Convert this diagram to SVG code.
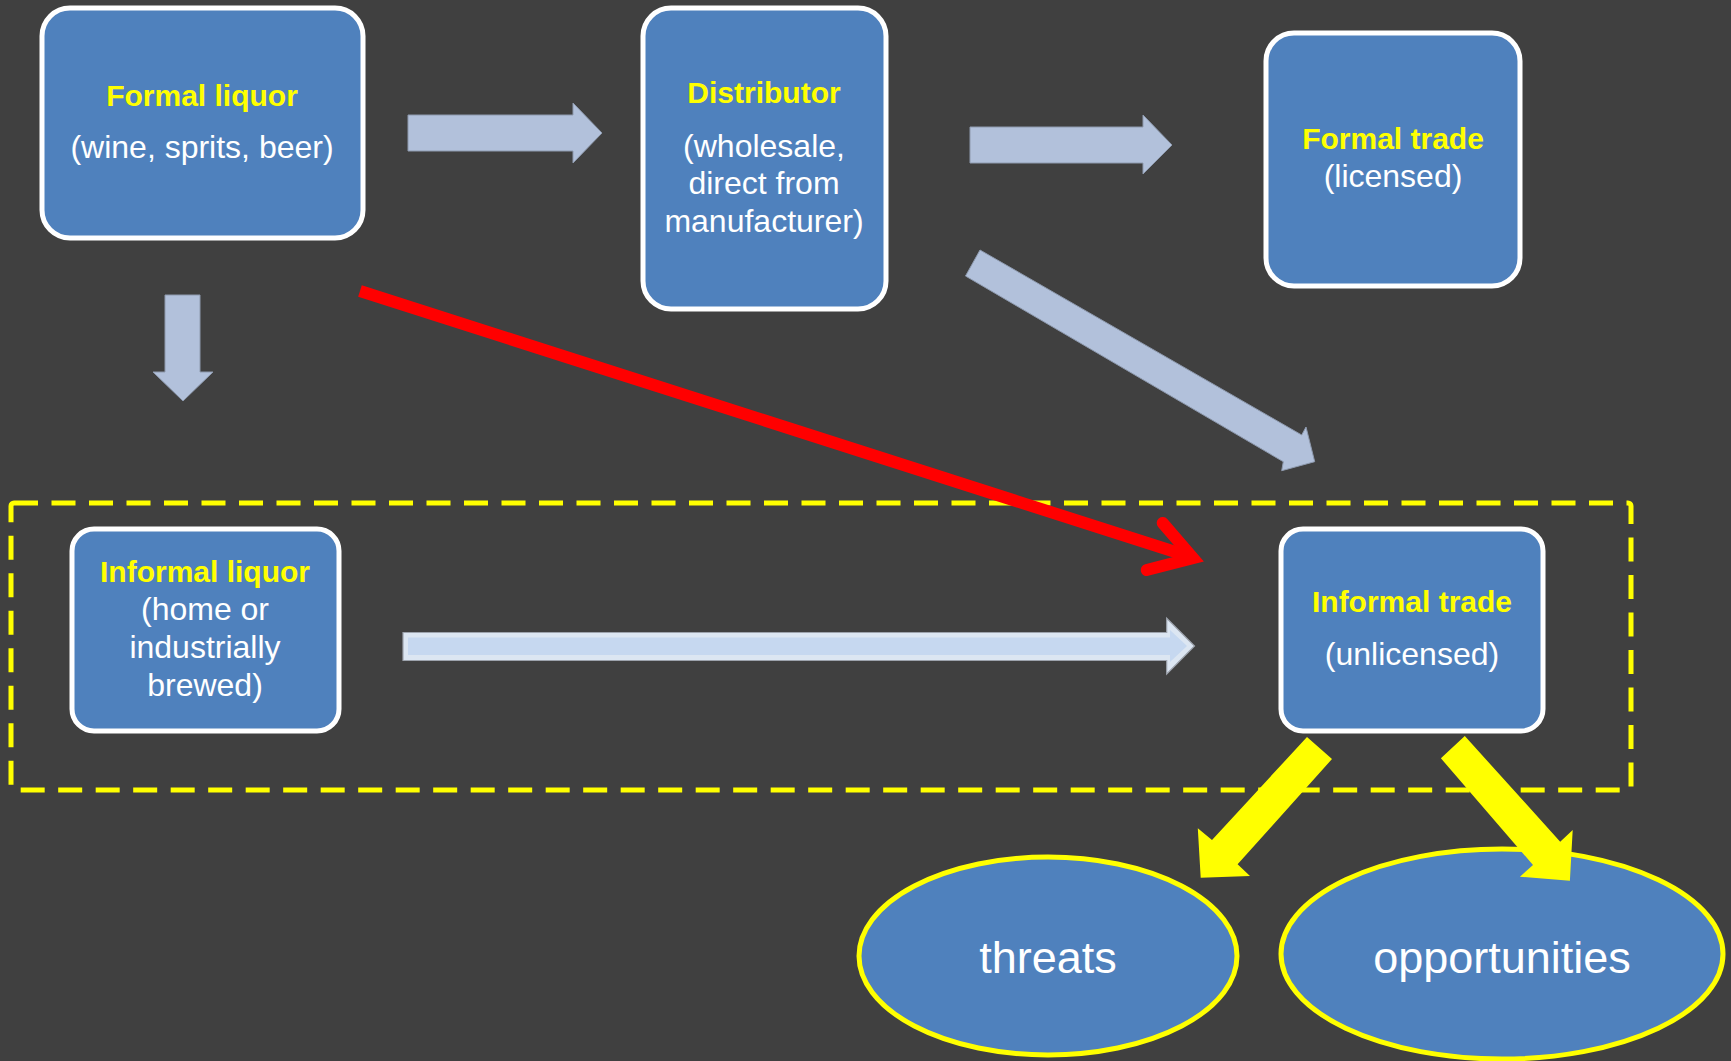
<svg xmlns="http://www.w3.org/2000/svg" width="1731" height="1061" viewBox="0 0 1731 1061">
<style>
.box{fill:#4F81BD;stroke:#FFFFFF;stroke-width:5}
.oval{fill:#4F81BD;stroke:#FFFF00;stroke-width:5}
.t{font-family:"Liberation Sans",Arial,sans-serif;text-anchor:middle}
.title{font-weight:bold;font-size:30px;fill:#FFFF00}
.body{font-size:32px;fill:#FFFFFF}
.big{font-size:45px;fill:#FFFFFF}
.blk{fill:#B2C1DB;stroke:#8E9AAE;stroke-width:1}
.yel{fill:#FFFF00}
.red{fill:none;stroke:#FF0000;stroke-width:12}
</style>
<rect x="0" y="0" width="1731" height="1061" fill="#404040"/>
<g id="frame">
<rect x="11" y="503" width="1620" height="287" rx="3" fill="none" stroke="#FFFF00" stroke-width="5" stroke-dasharray="24 13.5"/>
</g>
<g id="formal-liquor">
<rect class="box" x="42" y="8" width="321" height="230" rx="28"/>
<text class="t title" x="202" y="106">Formal liquor</text>
<text class="t body" x="202" y="158">(wine, sprits, beer)</text>
</g>
<g id="distributor">
<rect class="box" x="643" y="8" width="243" height="301" rx="28"/>
<text class="t title" x="764" y="103">Distributor</text>
<text class="t body" x="764" y="157">(wholesale,</text>
<text class="t body" x="764" y="194">direct from</text>
<text class="t body" x="764" y="232">manufacturer)</text>
</g>
<g id="formal-trade">
<rect class="box" x="1266" y="33" width="254" height="253" rx="28"/>
<text class="t title" x="1393" y="149">Formal trade</text>
<text class="t body" x="1393" y="187">(licensed)</text>
</g>
<g id="informal-liquor">
<rect class="box" x="72" y="529" width="267" height="202" rx="22"/>
<text class="t title" x="205" y="582">Informal liquor</text>
<text class="t body" x="205" y="620">(home or</text>
<text class="t body" x="205" y="658">industrially</text>
<text class="t body" x="205" y="696">brewed)</text>
</g>
<g id="informal-trade">
<rect class="box" x="1281" y="529" width="262" height="202" rx="22"/>
<text class="t title" x="1412" y="612">Informal trade</text>
<text class="t body" x="1412" y="665">(unlicensed)</text>
</g>
<g id="threats">
<ellipse class="oval" cx="1048" cy="956" rx="189" ry="99"/>
<text class="t big" x="1048" y="973">threats</text>
</g>
<g id="opportunities">
<ellipse class="oval" cx="1502" cy="954" rx="221" ry="105"/>
<text class="t big" x="1502" y="973">opportunities</text>
</g>
<g id="connectors">
<polygon class="blk" points="408,115 573,115 573,103 602,133 573,163 573,151 408,151"/>
<polygon class="blk" points="970,127 1143,127 1143,115 1172,145 1143,174 1143,163 970,163"/>
<polygon class="blk" points="165,295 200,295 200,372 213,372 183,401 153,372 165,372"/>
<polygon class="blk" points="980,250 1301.7,435 1306,427 1314.7,461.7 1281.7,470.7 1283.3,461.7 965.5,276"/>
<polygon points="403,632.5 1166.7,632.5 1166.7,618.3 1194.5,646 1166.7,674 1166.7,660.5 403,660.5" fill="#DCE6F2" stroke="#9DA3AD" stroke-width="1.2"/>
<polygon points="408,637.5 1170,637.5 1170,630 1187,646 1170,662 1170,655 408,655" fill="#C6D8F0"/>
<line class="red" x1="360" y1="291" x2="1188" y2="556"/>
<polyline class="red" points="1162.7,523 1193,558 1146.7,570" stroke-linecap="round" stroke-linejoin="miter" stroke-miterlimit="10"/>
<polygon class="yel" points="1307,737 1332,759 1237.6,864.3 1250,876 1200.7,877.7 1197.8,828.3 1212,840"/>
<polygon class="yel" points="1464.8,736 1560.2,841.7 1572.7,830 1569.9,880.7 1519.9,876.7 1533,865 1440.9,758.3"/>
</g>
</svg>
